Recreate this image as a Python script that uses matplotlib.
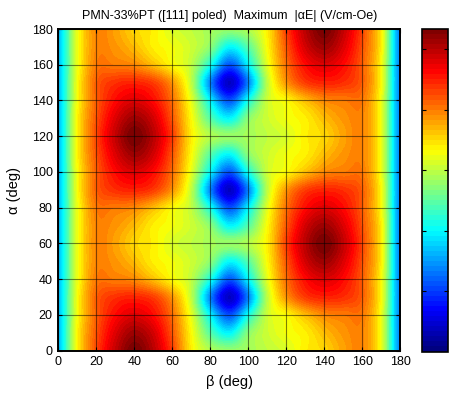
import numpy as np
import matplotlib
matplotlib.use('Agg')
import matplotlib.pyplot as plt
from matplotlib.colors import LinearSegmentedColormap

plt.rcParams['font.family'] = ['Liberation Sans', 'DejaVu Sans']

# ---- data ----
beta = [0, 10, 20, 30, 40, 50, 60, 70, 80, 90, 100, 110, 120, 130, 140, 150, 160, 170, 180]
alpha = [0, 10, 20, 30, 40, 50, 60, 70, 80, 90, 100, 110, 120, 130, 140, 150, 160, 170, 180]

# rows: alpha (0..180), columns: beta (0..180)
E_max = [
    [2.5, 5.0, 6.4, 7.4, 8.0, 7.5, 6.5, 5.1, 4.4, 4.2, 4.3, 4.5, 4.7, 5.1, 5.3, 5.7, 5.9, 4.8, 1.9],  # 0
    [2.5, 5.0, 6.3, 7.2, 7.7, 7.3, 6.3, 5.0, 3.7, 3.0, 4.1, 4.6, 4.9, 5.1, 5.5, 5.8, 5.9, 4.8, 1.9],  # 10
    [2.5, 4.9, 6.2, 6.9, 7.2, 6.9, 6.1, 4.8, 3.0, 1.7, 3.2, 4.6, 5.0, 5.5, 5.9, 6.0, 6.0, 4.8, 1.9],  # 20
    [2.5, 4.9, 6.2, 6.6, 6.7, 6.5, 5.8, 4.5, 2.1, 0.6, 2.1, 4.5, 5.8, 6.5, 6.7, 6.6, 6.2, 4.9, 1.9],  # 30
    [2.5, 4.8, 6.0, 6.0, 5.9, 5.5, 5.0, 4.5, 3.2, 1.7, 3.0, 4.8, 6.1, 6.9, 7.2, 6.9, 6.2, 4.9, 1.9],  # 40
    [2.5, 4.8, 5.9, 5.8, 5.5, 5.1, 4.9, 4.6, 4.1, 3.0, 3.7, 5.0, 6.3, 7.3, 7.7, 7.2, 6.3, 5.0, 1.9],  # 50
    [2.5, 4.8, 5.9, 5.7, 5.3, 5.1, 4.7, 4.5, 4.3, 4.2, 4.4, 5.1, 6.5, 7.5, 8.0, 7.4, 6.4, 5.0, 1.9],  # 60
    [2.5, 4.8, 5.9, 5.8, 5.5, 5.1, 4.9, 4.6, 4.1, 3.0, 3.7, 5.0, 6.3, 7.3, 7.7, 7.2, 6.3, 5.0, 1.9],  # 70
    [2.5, 4.8, 6.0, 6.0, 5.9, 5.5, 5.0, 4.5, 3.2, 1.7, 3.0, 4.8, 6.1, 6.9, 7.2, 6.9, 6.2, 4.9, 1.9],  # 80
    [2.5, 4.9, 6.2, 6.6, 6.7, 6.5, 5.8, 4.5, 2.1, 0.6, 2.1, 4.5, 5.8, 6.5, 6.7, 6.6, 6.2, 4.9, 1.9],  # 90
    [2.5, 4.9, 6.2, 6.9, 7.2, 6.9, 6.1, 4.8, 3.0, 1.7, 3.2, 4.6, 5.0, 5.5, 5.9, 6.0, 6.0, 4.8, 1.9],  # 100
    [2.5, 5.0, 6.3, 7.2, 7.7, 7.3, 6.3, 5.0, 3.7, 3.0, 4.1, 4.6, 4.9, 5.1, 5.5, 5.8, 5.9, 4.8, 1.9],  # 110
    [2.5, 5.0, 6.4, 7.4, 8.0, 7.5, 6.5, 5.1, 4.4, 4.2, 4.3, 4.5, 4.7, 5.1, 5.3, 5.7, 5.9, 4.8, 1.9],  # 120
    [2.5, 5.0, 6.3, 7.2, 7.7, 7.3, 6.3, 5.0, 3.7, 3.0, 4.1, 4.6, 4.9, 5.1, 5.5, 5.8, 5.9, 4.8, 1.9],  # 130
    [2.5, 4.9, 6.2, 6.9, 7.2, 6.9, 6.1, 4.8, 3.0, 1.7, 3.2, 4.6, 5.0, 5.5, 5.9, 6.0, 6.0, 4.8, 1.9],  # 140
    [2.5, 4.9, 6.2, 6.6, 6.7, 6.5, 5.8, 4.5, 2.1, 0.6, 2.1, 4.5, 5.8, 6.5, 6.7, 6.6, 6.2, 4.9, 1.9],  # 150
    [2.5, 4.8, 6.0, 6.0, 5.9, 5.5, 5.0, 4.5, 3.2, 1.7, 3.0, 4.8, 6.1, 6.9, 7.2, 6.9, 6.2, 4.9, 1.9],  # 160
    [2.5, 4.8, 5.9, 5.8, 5.5, 5.1, 4.9, 4.6, 4.1, 3.0, 3.7, 5.0, 6.3, 7.3, 7.7, 7.2, 6.3, 5.0, 1.9],  # 170
    [2.5, 4.8, 5.9, 5.7, 5.3, 5.1, 4.7, 4.5, 4.3, 4.2, 4.4, 5.1, 6.5, 7.5, 8.0, 7.4, 6.4, 5.0, 1.9],  # 180
]

x_ticks = [0, 20, 40, 60, 80, 100, 120, 140, 160, 180]
y_ticks = [0, 20, 40, 60, 80, 100, 120, 140, 160, 180]
cbar_ticks = [1.5, 3.0, 4.5, 6.0, 7.5]
c_min, c_max = 0.0, 8.0

title_text = 'PMN-33%PT ([111] poled)  Maximum  |\u03b1E| (V/cm-Oe)'
x_label = '\u03b2 (deg)'
y_label = '\u03b1 (deg)'

# ---- MATLAB-like jet colormap (64 colours) ----
jet_ml = LinearSegmentedColormap.from_list(
    'jet_ml',
    [(0.0, (0, 0, 0.5)), (0.125, (0, 0, 1)), (0.375, (0, 1, 1)),
     (0.625, (1, 1, 0)), (0.875, (1, 0, 0)), (1.0, (0.5, 0, 0))],
    N=64)

W, H = 449, 397
fig = plt.figure(figsize=(W / 100, H / 100), dpi=100)
fig.patch.set_facecolor('white')

ax_l, ax_r, ax_t, ax_b = 58.3, 400.5, 29.0, 350.7
ax = fig.add_axes([ax_l / W, 1 - ax_b / H, (ax_r - ax_l) / W, (ax_b - ax_t) / H])

Z = np.array(E_max)
db = beta[1] - beta[0]
da = alpha[1] - alpha[0]
im = ax.imshow(Z, origin='lower', cmap=jet_ml, vmin=c_min, vmax=c_max,
               extent=[beta[0] - db / 2, beta[-1] + db / 2, alpha[0] - da / 2, alpha[-1] + da / 2],
               interpolation='catrom', interpolation_stage='data', aspect='auto')
ax.set_xlim(0, 180)
ax.set_ylim(0, 180)
ax.set_xticks(x_ticks)
ax.set_yticks(y_ticks)
ax.grid(True, color='black', linewidth=0.8, alpha=0.5, linestyle='-')
ax.tick_params(direction='in', top=True, right=True, length=3, width=0.8,
               labelsize=9, pad=4, colors='black')
for s in ax.spines.values():
    s.set_linewidth(1.4)

cax = fig.add_axes([421.7 / W, 1 - 351.5 / H, 26.5 / W, (351.5 - 29.0) / H])
cb = fig.colorbar(im, cax=cax, ticks=cbar_ticks)
cb.ax.tick_params(direction='in', left=True, right=True, labelleft=False,
                  labelright=False, length=3, width=0.8)
cb.outline.set_linewidth(1.2)

fig.text(229.4 / W, 1 - 18.5 / H, title_text, ha='center', va='baseline', fontsize=9)
fig.text(229.4 / W, 1 - 382 / H, x_label, ha='center', va='center', fontsize=10.5)
fig.text(14 / W, 1 - 190 / H, y_label, ha='center', va='center', rotation=90, fontsize=10.5)

fig.savefig('out.png', dpi=100)
